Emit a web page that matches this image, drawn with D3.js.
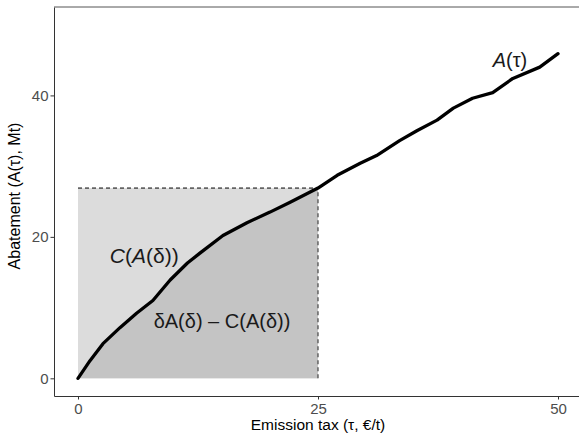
<!DOCTYPE html>
<html>
<head>
<meta charset="utf-8">
<script src="https://cdn.jsdelivr.net/npm/d3@7"></script>
<style>
  body { margin: 0; background: #fff; }
  svg { display: block; font-family: "Liberation Sans", Arial, sans-serif; }
</style>
</head>
<body>
<svg width="579" height="433"></svg>
<script>
// кривая A(tau), значения
const taus      = [0, 1.25, 2.6, 4.4, 6.1, 7.8, 9.6, 11.4, 12.7, 15.1, 17.6, 20, 22.1, 25,
                   27, 29.4, 31.1, 33.5, 35.3, 37.4, 39.1, 41.1, 43.2, 45.3, 48.1, 50];
const abatement = [0, 2.5, 4.9, 7.2, 9.2, 11.0, 13.9, 16.3, 17.7, 20.2, 22.0, 23.5, 24.9, 26.9,
                   28.7, 30.4, 31.5, 33.6, 35.0, 36.5, 38.2, 39.6, 40.4, 42.4, 44.0, 45.9];
const delta = 25;
const aDelta = 26.9;
const xTicks = [0, 25, 50];
const yTicks = [0, 20, 40];

const data = taus.map((t, i) => ({ t: t, a: abatement[i] }));

const svg = d3.select("svg");
const attr_area = { left: 54, right: 582, top: 7, bottom: 396 };

const scX = d3.scaleLinear().domain([-2.5, 52.5]).range([attr_area.left, attr_area.right]);
const scY = d3.scaleLinear().domain([-2.5, 52.5]).range([attr_area.bottom, attr_area.top]);

// прямоугольник delta * A(delta)
svg.append("rect")
    .attr("x", scX(0))
    .attr("y", scY(aDelta))
    .attr("width", scX(delta) - scX(0))
    .attr("height", scY(0) - scY(aDelta))
    .attr("fill", "#dcdcdc");

// площадь под кривой до delta
const under = data.filter(d => d.t <= delta);
svg.append("path")
    .attr("d", d3.area().x(d => scX(d.t)).y0(scY(0)).y1(d => scY(d.a))(under))
    .attr("fill", "#c4c4c4");

// пунктир
svg.append("line")
    .attr("x1", scX(0)).attr("x2", scX(delta))
    .attr("y1", scY(aDelta)).attr("y2", scY(aDelta))
    .attr("stroke", "#000").attr("stroke-width", 1).attr("stroke-dasharray", "4,3");
svg.append("line")
    .attr("x1", scX(delta)).attr("x2", scX(delta))
    .attr("y1", scY(0)).attr("y2", scY(aDelta))
    .attr("stroke", "#444").attr("stroke-width", 1.2).attr("stroke-dasharray", "4,3");

// кривая
svg.append("path")
    .attr("d", d3.line().x(d => scX(d.t)).y(d => scY(d.a))(data))
    .attr("fill", "none")
    .attr("stroke", "#000")
    .attr("stroke-width", 3.3)
    .attr("stroke-linejoin", "round")
    .attr("stroke-linecap", "round");

// подписи
function label(x, y, parts, size) {
    const t = svg.append("text")
        .attr("x", scX(x)).attr("y", scY(y))
        .attr("text-anchor", "middle")
        .attr("dominant-baseline", "middle")
        .style("font-size", size + "px")
        .attr("fill", "#1a1a1a");
    parts.forEach(p => {
        t.append("tspan").text(p[0]).style("font-style", p[1] ? "italic" : "normal");
    });
}
label(6.9, 17.2, [["C", 1], ["(", 0], ["A", 1], ["(δ))", 0]], 21);
label(15.0, 7.8, [["δA(δ) – C(A(δ))", 0]], 20);
label(45.0, 44.7, [["A", 1], ["(τ)", 0]], 20);

// оси
const axisX = d3.axisBottom(scX).tickValues(xTicks).tickSize(3.5).tickPadding(3.5).tickSizeOuter(0);
const axisY = d3.axisLeft(scY).tickValues(yTicks).tickSize(3.5).tickPadding(2).tickSizeOuter(0);

const gx = svg.append("g")
    .attr("transform", `translate(0, ${attr_area.bottom})`)
    .call(axisX);
const gy = svg.append("g")
    .attr("transform", `translate(${attr_area.left}, 0)`)
    .call(axisY);

[gx, gy].forEach(g => {
    g.select(".domain").attr("stroke", "#333").attr("stroke-width", 1);
    g.selectAll(".tick line").attr("stroke", "#333");
    g.selectAll(".tick text")
        .attr("fill", "#4d4d4d")
        .style("font-size", "15px")
        .style("font-family", "Liberation Sans, Arial, sans-serif");
});

// верхняя граница
svg.append("line")
    .attr("x1", attr_area.left).attr("x2", 579)
    .attr("y1", attr_area.top).attr("y2", attr_area.top)
    .attr("stroke", "#555").attr("stroke-width", 1);

// заголовки осей
svg.append("text")
    .attr("x", 318)
    .attr("y", 430)
    .attr("text-anchor", "middle")
    .style("font-size", "15.5px")
    .text("Emission tax (τ, €/t)");

svg.append("text")
    .attr("transform", `translate(20, 196) rotate(-90)`)
    .attr("text-anchor", "middle")
    .style("font-size", "16px")
    .text("Abatement (A(τ), Mt)");
</script>
</body>
</html>
